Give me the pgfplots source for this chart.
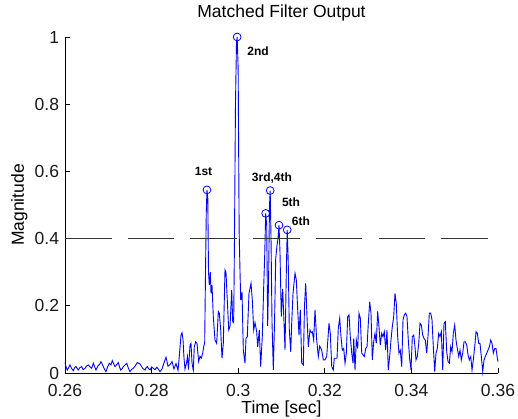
\documentclass[border=0pt]{standalone}
\usepackage{fontspec}
\setmainfont{Liberation Sans}
\usepackage{pgfplots}
\pgfplotsset{compat=1.18}
\begin{document}
\begin{tikzpicture}
\path[use as bounding box] (-65pt,-46pt) rectangle (453pt,373pt);
\begin{axis}[
  at={(0pt,0pt)}, anchor=south west,
  scale only axis, width=433pt, height=336pt,
  xmin=0.26, xmax=0.36, ymin=0, ymax=1,
  axis x line=bottom, axis y line=left,
  axis line style={-, line width=0.8pt, black},
  xtick={0.26,0.28,0.30,0.32,0.34,0.36},
  xticklabels={0.26,0.28,0.3,0.32,0.34,0.36},
  ytick={0,0.2,0.4,0.6,0.8,1},
  yticklabels={0,0.2,0.4,0.6,0.8,1},
  tick align=inside, major tick length=5pt,
  tick style={black, line width=0.8pt},
  ticklabel style={font=\fontsize{17.5}{20}\selectfont, text=black!90, inner sep=1pt},
  xticklabel style={yshift=-9.8pt},
  yticklabel style={xshift=-4.8pt},
  /pgf/number format/assume math mode=true,
  clip=false,
  title={Matched Filter Output},
  title style={at={(axis description cs:0.5,1.0408)}, anchor=base, font=\fontsize{17.5}{20}\selectfont},
  xlabel={Time [sec]},
  xlabel style={at={(axis description cs:0.5,-0.122)}, anchor=base, font=\fontsize{17.5}{20}\selectfont},
  ylabel={Magnitude},
  ylabel style={at={(axis description cs:-0.0947,0.5)}, anchor=base, rotate=0, font=\fontsize{17.5}{20}\selectfont},
]
\addplot[color={rgb,255:red,0;green,0;blue,255}, line width=0.9pt, sharp plot] coordinates {
(0.26000,0.031)(0.26025,0.018)(0.26053,0.009)(0.26085,0.016)(0.26115,0.024)(0.26150,0.014)(0.26192,0.007)(0.26220,0.015)(0.26254,0.019)
(0.26280,0.014)(0.26307,0.009)(0.26345,0.016)(0.26385,0.019)(0.26420,0.010)(0.26462,0.014)(0.26500,0.021)(0.26538,0.024)(0.26580,0.018)(0.26616,0.014)
(0.26654,0.029)(0.26690,0.017)(0.26716,0.009)(0.26760,0.021)(0.26800,0.026)(0.26831,0.034)(0.26860,0.026)(0.26885,0.019)(0.26915,0.011)(0.26947,0.004)
(0.26985,0.018)(0.27023,0.029)(0.27060,0.024)(0.27092,0.037)(0.27125,0.027)(0.27155,0.019)(0.27195,0.025)(0.27231,0.031)(0.27260,0.018)(0.27286,0.009)
(0.27320,0.013)(0.27347,0.019)(0.27385,0.024)(0.27425,0.029)(0.27465,0.014)(0.27501,0.004)(0.27540,0.011)(0.27578,0.014)(0.27625,0.022)(0.27670,0.031)
(0.27732,0.027)(0.27765,0.020)(0.27794,0.014)(0.27848,0.009)(0.27875,0.016)(0.27901,0.019)(0.27930,0.013)(0.27963,0.009)
(0.28000,0.018)(0.28039,0.014)(0.28080,0.010)(0.28117,0.017)(0.28155,0.012)(0.28194,0.004)
(0.28240,0.012)(0.28286,0.030)(0.28333,0.047)(0.28379,0.020)(0.28425,0.025)
(0.28471,0.034)(0.28517,0.012)(0.28564,0.028)(0.28610,0.008)(0.28633,0.040)
(0.28656,0.075)(0.28679,0.113)(0.28702,0.120)(0.28725,0.100)(0.28748,0.045)
(0.28771,0.012)(0.28806,0.030)(0.28829,0.049)(0.28852,0.010)(0.28887,0.083)
(0.28910,0.088)(0.28933,0.030)(0.28963,0.008)(0.28986,0.078)(0.29018,0.093)
(0.29048,0.088)(0.29087,0.034)(0.29118,0.050)(0.29148,0.044)(0.29180,0.059)
(0.29203,0.078)(0.29226,0.090)(0.29245,0.300)(0.29263,0.480)(0.29279,0.545)
(0.29298,0.520)(0.29314,0.300)(0.29333,0.262)(0.29356,0.300)(0.29372,0.237)
(0.29395,0.262)(0.29425,0.168)(0.29464,0.098)(0.29503,0.088)(0.29541,0.183)
(0.29564,0.178)(0.29596,0.128)(0.29626,0.044)(0.29656,0.088)(0.29695,0.307)
(0.29718,0.300)(0.29748,0.217)(0.29781,0.128)(0.29811,0.138)(0.29850,0.247)
(0.29873,0.153)(0.29896,0.150)(0.29914,0.400)(0.29937,0.800)(0.29960,0.980)
(0.29976,1.000)(0.29999,0.907)(0.30022,0.420)(0.30042,0.300)(0.30058,0.217)
(0.30088,0.242)(0.30118,0.068)(0.30157,0.029)(0.30180,0.103)(0.30210,0.108)
(0.30249,0.237)(0.30296,0.267)(0.30326,0.217)(0.30358,0.128)(0.30388,0.150)
(0.30427,0.123)(0.30450,0.078)(0.30487,0.128)(0.30519,0.019)(0.30557,0.110)
(0.30589,0.257)(0.30612,0.350)(0.30635,0.475)(0.30658,0.440)(0.30681,0.140)
(0.30704,0.300)(0.30723,0.500)(0.30739,0.543)(0.30758,0.400)(0.30781,0.150)
(0.30811,0.009)(0.30839,0.150)(0.30866,0.340)(0.30896,0.380)(0.30919,0.400)
(0.30942,0.440)(0.30965,0.360)(0.30995,0.168)(0.31027,0.250)(0.31058,0.150)
(0.31081,0.068)(0.31111,0.300)(0.31132,0.426)(0.31155,0.336)(0.31180,0.130)
(0.31213,0.063)(0.31236,0.150)(0.31266,0.237)(0.31312,0.297)(0.31342,0.277)
(0.31374,0.188)(0.31404,0.113)(0.31434,0.188)(0.31467,0.029)(0.31504,0.024)
(0.31531,0.200)(0.31559,0.267)(0.31589,0.168)(0.31619,0.078)(0.31658,0.128)
(0.31688,0.120)(0.31711,0.123)(0.31743,0.098)(0.31774,0.188)(0.31813,0.098)
(0.31850,0.049)(0.31882,0.080)(0.31929,0.068)(0.31966,0.039)(0.32005,0.039)
(0.32044,0.049)(0.32097,0.148)(0.32127,0.118)(0.32160,0.019)(0.32196,0.009)
(0.32219,0.044)(0.32252,0.044)(0.32282,0.044)(0.32312,0.133)(0.32344,0.163)
(0.32374,0.108)(0.32404,0.068)(0.32437,0.073)(0.32467,0.029)(0.32497,0.059)
(0.32529,0.168)(0.32559,0.173)(0.32589,0.108)(0.32622,0.059)(0.32652,0.029)
(0.32668,0.103)(0.32698,0.009)(0.32728,0.098)(0.32760,0.073)(0.32790,0.178)
(0.32820,0.163)(0.32853,0.059)(0.32883,0.054)(0.32913,0.049)(0.32945,0.073)
(0.32975,0.078)(0.33005,0.148)(0.33037,0.212)(0.33067,0.178)(0.33097,0.039)
(0.33129,0.093)(0.33159,0.118)(0.33189,0.088)(0.33221,0.183)(0.33251,0.138)
(0.33281,0.083)(0.33314,0.118)(0.33344,0.108)(0.33374,0.123)(0.33406,0.068)
(0.33436,0.128)(0.33466,0.009)(0.33498,0.049)(0.33528,0.098)(0.33559,0.138)
(0.33591,0.168)(0.33621,0.237)(0.33651,0.207)(0.33683,0.108)(0.33713,0.059)
(0.33743,0.068)(0.33776,0.019)(0.33806,0.158)(0.33836,0.173)(0.33868,0.178)
(0.33898,0.168)(0.33928,0.098)(0.33961,0.040)(0.33991,0.009)(0.34021,0.108)
(0.34053,0.113)(0.34083,0.078)(0.34106,0.039)(0.34136,0.049)(0.34169,0.088)
(0.34199,0.148)(0.34229,0.143)(0.34261,0.113)(0.34291,0.103)(0.34321,0.098)
(0.34353,0.059)(0.34383,0.108)(0.34414,0.178)(0.34446,0.178)(0.34476,0.158)
(0.34506,0.078)(0.34538,0.004)(0.34568,0.059)(0.34598,0.073)(0.34630,0.118)
(0.34661,0.108)(0.34691,0.123)(0.34723,0.009)(0.34753,0.148)(0.34783,0.153)
(0.34816,0.063)(0.34846,0.034)(0.34876,0.029)(0.34908,0.078)(0.34938,0.063)
(0.34968,0.118)(0.35000,0.143)(0.35030,0.098)(0.35060,0.073)(0.35093,0.049)
(0.35123,0.068)(0.35153,0.039)(0.35185,0.059)(0.35215,0.093)(0.35245,0.093)
(0.35278,0.083)(0.35308,0.054)(0.35338,0.039)(0.35370,0.049)(0.35400,0.009)
(0.35430,0.039)(0.35462,0.078)(0.35493,0.123)(0.35523,0.118)(0.35555,0.088)
(0.35584,0.088)(0.35615,0.049)(0.35647,0.004)(0.35677,0.039)(0.35707,0.049)
(0.35740,0.059)(0.35769,0.068)(0.35800,0.078)(0.35832,0.098)(0.35862,0.088)
(0.35892,0.059)(0.35924,0.073)(0.35954,0.073)(0.35985,0.044)(0.36000,0.034)
};
\addplot[black!80, line width=0.8pt, dash pattern=on 46.5pt off 16.2pt] coordinates {(0.26,0.4) (0.3586,0.4)};
\addplot[only marks, mark=o, mark size=3.9pt, color={rgb,255:red,0;green,0;blue,255}, mark options={line width=0.8pt}] coordinates {
(0.29279,0.545)(0.29976,1.000)(0.30635,0.475)(0.30739,0.543)(0.30942,0.440)(0.31132,0.426)
};
\node[anchor=base, font=\bfseries\fontsize{12}{14}\selectfont] at (axis cs:0.2920,0.589) {1st};
\node[anchor=base, font=\bfseries\fontsize{12}{14}\selectfont] at (axis cs:0.3046,0.946) {2nd};
\node[anchor=base, font=\bfseries\fontsize{12}{14}\selectfont] at (axis cs:0.3078,0.569) {3rd,4th};
\node[anchor=base, font=\bfseries\fontsize{12}{14}\selectfont] at (axis cs:0.3122,0.496) {5th};
\node[anchor=base, font=\bfseries\fontsize{12}{14}\selectfont] at (axis cs:0.3145,0.4375) {6th};
\end{axis}
\end{tikzpicture}
\end{document}
